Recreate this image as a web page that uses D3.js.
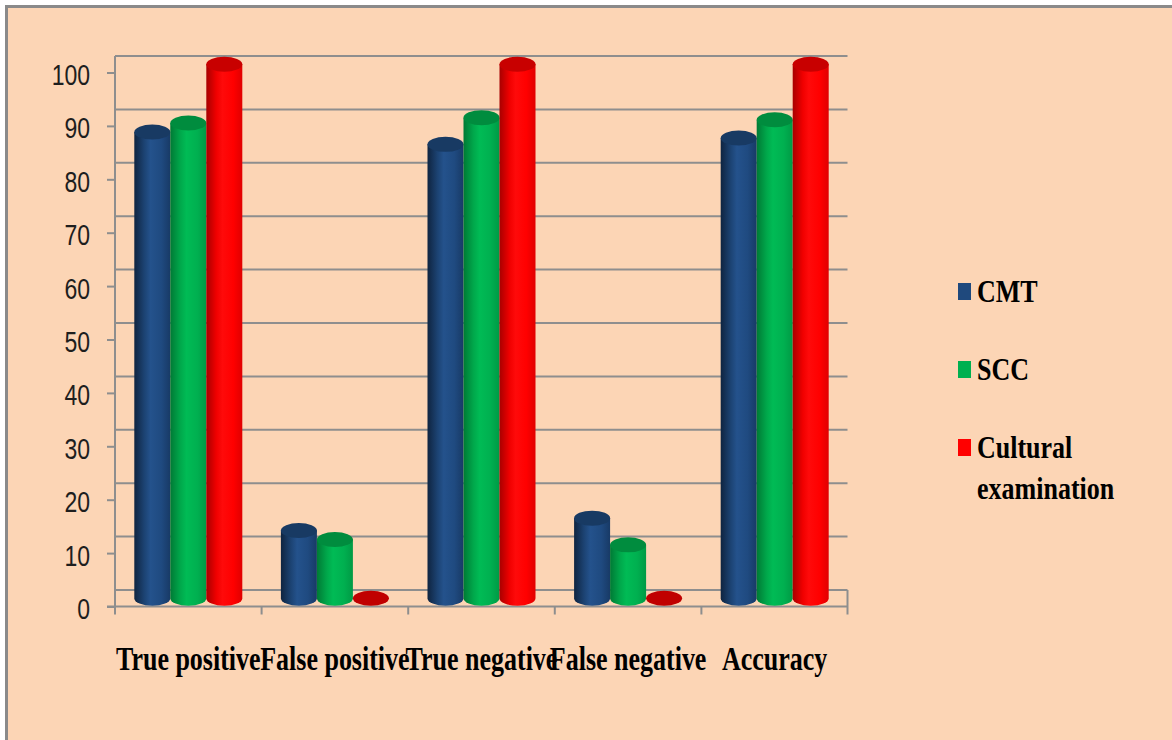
<!DOCTYPE html>
<html>
<head>
<meta charset="utf-8">
<script src="https://cdn.jsdelivr.net/npm/d3@7"></script>
<style>
  html, body { margin: 0; padding: 0; background: #ffffff; }
  svg { display: block; }
  .serif { font-family: "Liberation Serif", "Times New Roman", Times, serif; font-weight: bold; }
  .sans { font-family: "Liberation Sans", Arial, sans-serif; }
</style>
</head>
<body>
<svg id="chart" width="1172" height="740"></svg>
<script>
// Detection results (%) for each method
const categories = ["True positive", "False positive", "True negative", "False negative", "Accuracy"];
const seriesNames = ["CMT", "SCC", "Cultural examination"];
const cmtValues = [87.3, 12.7, 85, 15, 86.2];
const sccValues = [89, 11, 90, 10, 89.6];
const culturalValues = [100, 0, 100, 0, 100];
const yTicks = [0, 10, 20, 30, 40, 50, 60, 70, 80, 90, 100];

const seriesValues = [cmtValues, sccValues, culturalValues];

const svg = d3.select("#chart");
const W = 1172, H = 740;

// chart frame
svg.append("rect")
  .attr("x", 6.5).attr("y", 6.5)
  .attr("width", W + 20).attr("height", H + 20)
  .attr("fill", "#fcd5b5")
  .attr("stroke", "#8a8a8a").attr("stroke-width", 3);

// plot geometry: front plane of the floor and the depth offset of the back wall
const x0 = 115, x1 = 848;
const depth = 16.5;
const yFront = d3.scaleLinear().domain([0, 100]).range([606.5, 72.5]);
const yBack = v => yFront(v) - depth;
const yBar = v => yFront(v) - depth / 2;

const x = d3.scaleBand().domain(categories).range([x0, x1]).paddingInner(0).paddingOuter(0);
const xs = d3.scaleBand().domain(seriesNames).range([0, x.bandwidth()]).paddingInner(0).paddingOuter(0.536);

const gridColor = "#8e8e8e";

// back wall gridlines
svg.append("g").selectAll("line").data(yTicks).join("line")
  .attr("x1", x0).attr("x2", x1 - 0.5)
  .attr("y1", d => yBack(d)).attr("y2", d => yBack(d))
  .attr("stroke", gridColor).attr("stroke-width", 2);

// left wall edge and floor outline
const frame = svg.append("g").attr("stroke", gridColor).attr("stroke-width", 2).attr("fill", "none");
frame.append("line").attr("x1", x0).attr("x2", x0).attr("y1", yBack(100)).attr("y2", yFront(0) + 8);
frame.append("line").attr("x1", x0 - 8).attr("x2", x1 - 0.5).attr("y1", yFront(0)).attr("y2", yFront(0));
frame.append("line").attr("x1", x1 - 0.5).attr("x2", x1 - 0.5).attr("y1", yBack(0)).attr("y2", yFront(0) + 8);

// category boundary ticks
const bounds = categories.map(c => x(c)).concat([x1]);
frame.selectAll("line.ctick").data(bounds.slice(1, -1)).join("line")
  .attr("class", "ctick")
  .attr("x1", d => d).attr("x2", d => d)
  .attr("y1", yFront(0)).attr("y2", yFront(0) + 8);

// y axis on the front plane
const yAxis = d3.axisLeft(yFront).tickValues(yTicks).tickSize(8).tickSizeOuter(0).tickPadding(0);
const ya = svg.append("g").attr("transform", `translate(${x0},0)`).call(yAxis);
ya.select(".domain").remove();
ya.selectAll(".tick line").attr("stroke", gridColor).attr("stroke-width", 2);
ya.selectAll(".tick text")
  .attr("x", null).attr("dy", null)
  .attr("class", "sans")
  .attr("transform", "translate(-25,2) scale(1,1.25)")
  .attr("text-anchor", "end")
  .attr("dominant-baseline", "central")
  .attr("font-family", null)
  .attr("font-size", 23)
  .attr("fill", "#1e1e1e");

// cylinder shading
const palettes = [
  { stops: ["#0f2440", "#1c4373", "#24528c", "#1f4a80", "#183a66"], top: "#183a63", base: "#1f497d" },
  { stops: ["#007a35", "#00a84b", "#00bb55", "#00b050", "#009a45"], top: "#008c3e", base: "#00b050" },
  { stops: ["#a80000", "#f00000", "#ff0a0a", "#ff0000", "#e00000"], top: "#c80000", base: "#c00000" }
];
const defs = svg.append("defs");
palettes.forEach((p, i) => {
  const g = defs.append("linearGradient").attr("id", "cyl" + i)
    .attr("x1", "0%").attr("x2", "100%").attr("y1", "0%").attr("y2", "0%");
  [0, 0.28, 0.45, 0.75, 1].forEach((o, k) => g.append("stop").attr("offset", o).attr("stop-color", p.stops[k]));
});

// cylinders
const rx = xs.bandwidth() / 2;
const ry = 7.5;
const bars = [];
categories.forEach((c, ci) => {
  seriesNames.forEach((s, si) => {
    bars.push({ c, s, si, v: seriesValues[si][ci] });
  });
});

const gBars = svg.append("g");
bars.forEach(b => {
  const left = x(b.c) + xs(b.s);
  const right = left + xs.bandwidth();
  const yt = yBar(b.v);
  const yb = yBar(0);
  const g = gBars.append("g");
  if (b.v > 0) {
    g.append("path")
      .attr("d", `M${left},${yt} L${left},${yb} A${rx},${ry} 0 0 0 ${right},${yb} L${right},${yt} Z`)
      .attr("fill", `url(#cyl${b.si})`);
    g.append("ellipse")
      .attr("cx", left + rx).attr("cy", yt).attr("rx", rx).attr("ry", ry)
      .attr("fill", palettes[b.si].top);
  } else {
    g.append("ellipse")
      .attr("cx", left + rx).attr("cy", yb).attr("rx", rx).attr("ry", ry)
      .attr("fill", palettes[b.si].base);
  }
});

// category labels
svg.append("g").selectAll("text").data(categories).join("text")
  .attr("class", "serif")
  .attr("transform", d => `translate(${x(d) + x.bandwidth() / 2},670) scale(1,1.33)`)
  .attr("text-anchor", "middle")
  .attr("font-size", 26)
  .attr("fill", "#000")
  .text(d => d);

// legend
const legendRows = [
  { name: "CMT", lines: ["CMT"], y: 302, color: "#1f497d" },
  { name: "SCC", lines: ["SCC"], y: 380, color: "#00b050" },
  { name: "Cultural examination", lines: ["Cultural", "examination"], y: 458, color: "#ff0000" }
];
const lg = svg.append("g");
legendRows.forEach(r => {
  lg.append("rect")
    .attr("x", 958).attr("y", r.y - 19).attr("width", 13).attr("height", 17)
    .attr("fill", r.color);
  r.lines.forEach((t, k) => {
    lg.append("text")
      .attr("class", "serif")
      .attr("transform", `translate(977,${r.y + k * 41}) scale(1,1.22)`)
      .attr("font-size", 26)
      .attr("fill", "#000")
      .text(t);
  });
});
</script>
</body>
</html>
